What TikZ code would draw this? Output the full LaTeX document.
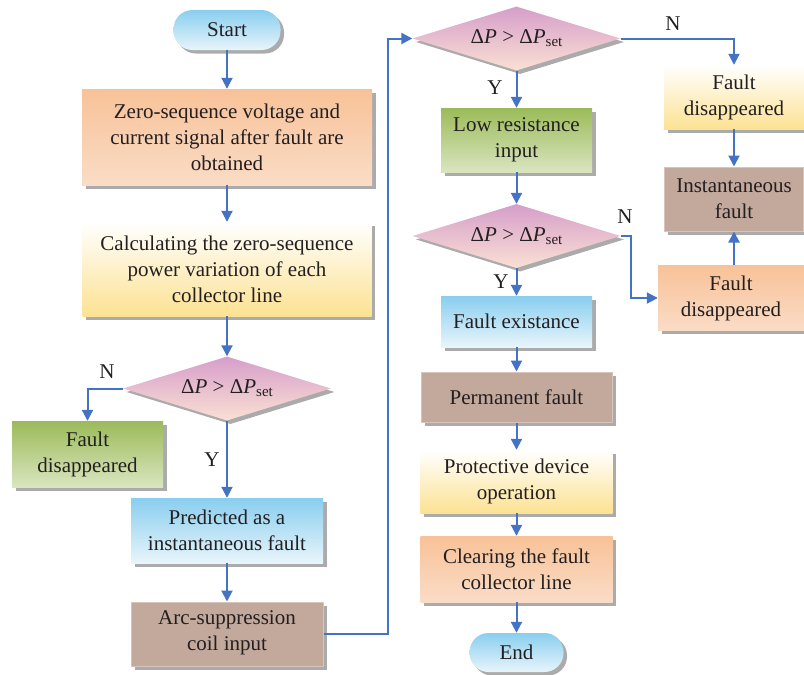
\documentclass[tikz,border=0pt]{standalone}
\usepackage{fontspec}
\setmainfont{Liberation Serif}
\usetikzlibrary{shapes.geometric,shadows,arrows.meta}
\definecolor{flowblue}{RGB}{68,114,196}
\definecolor{textgray}{RGB}{35,31,32}
\definecolor{orangetop}{RGB}{248,194,152}
\definecolor{orangebot}{RGB}{250,220,198}
\definecolor{yellowtop}{RGB}{255,255,255}
\definecolor{yellowbot}{RGB}{252,226,146}
\definecolor{greentop}{RGB}{155,187,89}
\definecolor{greenbot}{RGB}{218,229,192}
\definecolor{bluetop}{RGB}{137,206,239}
\definecolor{bluebot}{RGB}{232,245,251}
\definecolor{brownfill}{RGB}{195,168,156}
\definecolor{browndraw}{RGB}{216,196,186}
\definecolor{pinktop}{RGB}{214,158,202}
\definecolor{pinkbot}{RGB}{250,224,212}
\newcommand{\deltaset}{Δ\textit{P} > Δ\textit{P}\raisebox{-0.3ex}{\fontsize{15}{15}\selectfont set}}
\begin{document}
\begin{tikzpicture}[x=1pt,y=-1pt,
		font=\fontsize{21}{26}\selectfont,text=textgray,
		box/.style={rectangle,align=center,inner sep=2pt,
			drop shadow={shadow xshift=3.5pt,shadow yshift=-3.5pt,fill=black!33,opacity=1}},
		orangebox/.style={box,top color=orangetop,bottom color=orangebot},
		yellowbox/.style={box,top color=yellowtop,bottom color=yellowbot},
		greenbox/.style={box,top color=greentop,bottom color=greenbot},
		bluebox/.style={box,top color=bluetop,bottom color=bluebot},
		brownbox/.style={box,fill=brownfill,draw=browndraw,line width=1pt},
		terminal/.style={box,rounded corners=19pt,top color=bluetop,bottom color=bluebot,
			minimum width=107pt,minimum height=40pt},
		decision/.style={box,shape=diamond,aspect=3.2,inner sep=0pt,
			top color=pinktop,bottom color=pinkbot,minimum width=208pt,minimum height=64pt},
		flow/.style={draw=flowblue,line width=2pt,-{Triangle[length=11pt,width=11pt]}}
	]
			\useasboundingbox (0,0) rectangle (804,675);

			\node[terminal] at (227,30) (start) {Start};
			\node[orangebox,minimum width=290pt,minimum height=96pt] at (227,137) (obtain) {Zero-sequence voltage and\\current signal after fault are\\obtained};
			\node[yellowbox,minimum width=289pt,minimum height=94pt] at (227,269) (calc) {Calculating the zero-sequence\\power variation of each\\collector line};
			\node[decision] at (227,388.5) (dec1) {\deltaset};
			\node[greenbox,minimum width=151pt,minimum height=66pt] at (87.5,454) (gone1) {Fault\\disappeared};
			\node[bluebox,minimum width=192pt,minimum height=65pt] at (227,530.5) (predict) {Predicted as a\\instantaneous fault};
			\node[brownbox,minimum width=192pt,minimum height=64pt] at (227,634) (arc) {Arc-suppression\\coil input\strut};

			\node[decision] at (516.5,38.5) (dec2) {\deltaset};
			\node[greenbox,minimum width=151pt,minimum height=64pt] at (516.5,140) (lowres) {Low resistance\\input};
			\node[decision] at (516.5,236) (dec3) {\deltaset};
			\node[bluebox,minimum width=151pt,minimum height=51pt] at (516.5,321.5) (exist) {Fault existance};
			\node[brownbox,minimum width=191pt,minimum height=50pt] at (516.5,397) (perm) {Permanent fault};
			\node[yellowbox,minimum width=192pt,minimum height=63pt] at (516.5,481.5) (protect) {Protective device\\operation};
			\node[orangebox,minimum width=192pt,minimum height=66pt] at (516.5,569) (clear) {Clearing the fault\\collector line};
			\node[terminal,minimum width=94pt,minimum height=39pt] at (516.5,652.5) (end) {End};

			\node[yellowbox,minimum width=140pt,minimum height=64pt] at (734,97) (gone2) {Fault\\disappeared};
			\node[brownbox,minimum width=139pt,minimum height=64pt] at (734,199) (inst) {Instantaneous\\fault};
			\node[orangebox,minimum width=146pt,minimum height=65pt] at (731,298) (gone3) {Fault\\disappeared};

			\node at (107,372) (n1) {N};
			\node at (212,460) (y1) {Y};
			\node at (673,24) (n2) {N};
			\node at (495,88) (y2) {Y};
			\node at (625,217) (n3) {N};
			\node at (501,282) (y3) {Y};

			\foreach \a/\b in {start/obtain,obtain/calc,calc/dec1,dec1/predict,predict/arc,
				dec2/lowres,lowres/dec3,dec3/exist,exist/perm,perm/protect,protect/clear,clear/end}
				\draw[flow] (\a) -- (\b);

			\coordinate (up) at (388,634);
			\coordinate (knee) at (631,236);
			\draw[flow] (arc.east) -- (up) |- (dec2.west);
			\draw[flow] (dec1.west) -| (gone1.north);
			\draw[flow] (dec2.east) -| (gone2.north);
			\draw[flow] (dec3.east) -- (knee) |- (gone3.west);
			\draw[flow] (gone2.south) -- (gone2.south |- inst.north);
			\draw[flow] (inst.south |- gone3.north) -- (inst.south);
		\end{tikzpicture}
\end{document}
